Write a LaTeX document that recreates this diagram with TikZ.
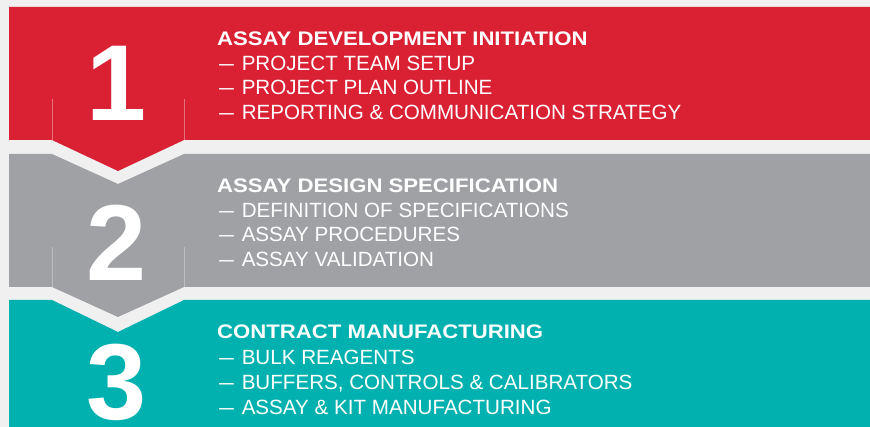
\documentclass[tikz,border=0pt]{standalone}
\usepackage{fontspec}
\setmainfont{Liberation Sans}
\newfontfamily\titlefont[FakeStretch=1.13]{Liberation Sans Bold}
\newfontfamily\numfont{Liberation Sans Bold}
\newfontfamily\dashfont[FakeStretch=0.72]{Liberation Sans}
\newcommand{\dsh}{{\dashfont—}\hspace{2pt} }
\definecolor{bgc}{HTML}{EFF0EF}
\definecolor{redc}{HTML}{DA2134}
\definecolor{grayc}{HTML}{A0A1A5}
\definecolor{tealc}{HTML}{00B1AF}
\definecolor{redline}{HTML}{E8707C}
\definecolor{grayline}{HTML}{BCBDC0}
\tikzset{
  ttl/.style={anchor=base west, inner sep=0pt, text=white, font=\titlefont\fontsize{19.6}{20}\selectfont},
  itm/.style={anchor=base west, inner sep=0pt, text=white, font=\fontsize{20.6}{21}\selectfont},
  num/.style={anchor=base, inner sep=0pt, text=white, font=\numfont\fontsize{108}{110}\selectfont},
  fold/.style={line width=0.7pt}
}
\begin{document}
\begin{tikzpicture}[x=1pt,y=-1pt]
\useasboundingbox (0,0) rectangle (870,427);
\fill[bgc] (0,0) rectangle (870,427);
% bands
\fill[redc] (9,7) -- (870,7) -- (870,140) -- (184,140) -- (118,171) -- (52,140) -- (9,140) -- cycle;
\fill[grayc] (9,154) -- (52,154) -- (118,184) -- (184,154) -- (870,154) -- (870,287) -- (184,287) -- (118,317) -- (52,287) -- (9,287) -- cycle;
\fill[tealc] (9,300) -- (52,300) -- (118,332) -- (184,300) -- (870,300) -- (870,427) -- (9,427) -- cycle;
% fold lines
\draw[fold, redline] (52,99) -- (52,140) (184,99) -- (184,140);
\draw[fold, grayline] (52,247) -- (52,287) (184,247) -- (184,287);
% numbers
\node[num] (n1) at (117,120.5) {1};
\node[num] (n2) at (117,280.5) {2};
\node[num] (n3) at (117,420) {3};
% section 1
\node[ttl] (t1) at (217,45.5) {ASSAY DEVELOPMENT INITIATION};
\node[itm] (a1) at (219,71) {\dsh PROJECT TEAM SETUP};
\node[itm] (a2) at (219,95) {\dsh PROJECT PLAN OUTLINE};
\node[itm] (a3) at (219,120) {\dsh REPORTING \& COMMUNICATION STRATEGY};
% section 2
\node[ttl] (t2) at (217,192.3) {ASSAY DESIGN SPECIFICATION};
\node[itm] (b1) at (219,218) {\dsh DEFINITION OF SPECIFICATIONS};
\node[itm] (b2) at (219,242) {\dsh ASSAY PROCEDURES};
\node[itm] (b3) at (219,267) {\dsh ASSAY VALIDATION};
% section 3
\node[ttl] (t3) at (217,339) {CONTRACT MANUFACTURING};
\node[itm] (c1) at (219,365) {\dsh BULK REAGENTS};
\node[itm] (c2) at (219,389) {\dsh BUFFERS, CONTROLS \& CALIBRATORS};
\node[itm] (c3) at (219,414) {\dsh ASSAY \& KIT MANUFACTURING};
\end{tikzpicture}
\end{document}
